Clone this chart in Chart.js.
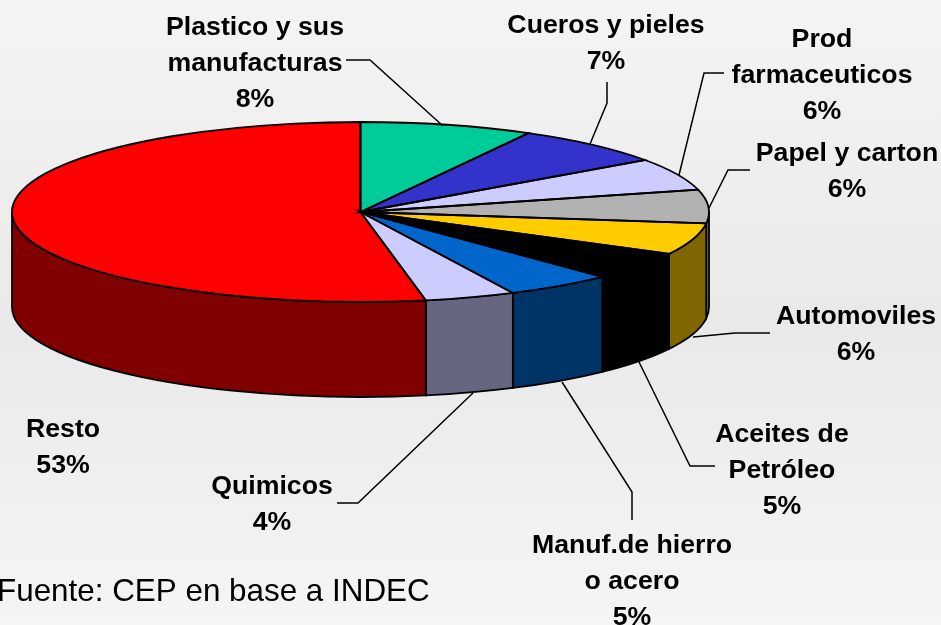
<!DOCTYPE html>
<html>
<head>
<meta charset="utf-8">
<title>Exportaciones</title>
<script src="https://cdn.jsdelivr.net/npm/chart.js@4"></script>
<style>
  html, body { margin: 0; padding: 0; width: 941px; height: 625px; overflow: hidden; }
  body { background: linear-gradient(180deg, #f4f4f4 0%, #e9e9e9 52%, #f5f5f5 100%); }
  canvas { display: block; }
</style>
</head>
<body>
<canvas id="pie" width="941" height="625"></canvas>
<script>
const categories = ["Plastico y sus manufacturas", "Cueros y pieles", "Prod farmaceuticos", "Papel y carton",
  "Automoviles", "Aceites de Petróleo", "Manuf.de hierro o acero", "Quimicos", "Resto"];
// read from the slice edges, the labels show them rounded
const values = [8, 7.2, 5.8, 6, 5.7, 5.1, 5, 4.2, 53];
const labelLines = [
  ["Plastico y sus", "manufacturas"], ["Cueros y pieles"], ["Prod", "farmaceuticos"], ["Papel y carton"],
  ["Automoviles"], ["Aceites de", "Petróleo"], ["Manuf.de hierro", "o acero"], ["Quimicos"], ["Resto"]
];
const topColors = ["#00cc99", "#3333cc", "#ccccff", "#b2b2b2", "#ffcc00", "#000000", "#0066cc", "#ccccff", "#ff0000"];
const sideColors = ["#006650", "#1a1a66", "#666680", "#808080", "#806600", "#000000", "#003366", "#666680", "#800000"];
const sourceNote = "Fuente: CEP en base a INDEC";

// where the flattened pie sits on the page
const pie3d = { cx: 360.5, cy: 212, rx: 348.5, ry: 90, depth: 95 };
// label centre and first line y, then the leader polyline
const labelPos = [
  { x: 255, y: 28, line: [[346, 60], [370, 60], [443, 126]] },
  { x: 606, y: 26, line: [[607, 82], [607, 103], [590, 144]] },
  { x: 822, y: 40, line: [[724, 73], [704, 73], [679, 175]] },
  { x: 847, y: 154, line: [[750, 170], [728, 170], [709, 208]] },
  { x: 856, y: 317, line: [[770, 333], [735, 333], [693, 337]] },
  { x: 782, y: 435, line: [[715, 466], [690, 466], [639, 362]] },
  { x: 632, y: 546, line: [[632, 520], [632, 492], [562, 382]] },
  { x: 272, y: 487, line: [[337, 503], [358, 503], [473, 393]] },
  { x: 63, y: 430, line: null }
];

function wedgeAngles(chart) {
  return chart.getDatasetMeta(0).data.map((arc) => arc.getProps(["startAngle", "endAngle"], true));
}

const pie3dPlugin = {
  id: "pie3d",
  beforeDatasetsDraw(chart) {
    const ctx = chart.ctx;
    const { cx, cy, rx, ry, depth } = pie3d;

    // side wall, only the part facing the viewer (0..PI)
    ctx.save();
    ctx.lineWidth = 1.8;
    ctx.strokeStyle = "#000";
    wedgeAngles(chart).forEach((a, i) => {
      const from = Math.max(a.startAngle, 0);
      const to = Math.min(a.endAngle, Math.PI);
      if (to <= from) return;
      ctx.beginPath();
      ctx.ellipse(cx, cy, rx, ry, 0, from, to);
      ctx.ellipse(cx, cy + depth, rx, ry, 0, to, from, true);
      ctx.closePath();
      ctx.fillStyle = sideColors[i];
      ctx.fill();
      ctx.stroke();
    });
    ctx.restore();

    // squash the library's round pie onto the ellipse
    const arc = chart.getDatasetMeta(0).data[0];
    const r = arc.outerRadius;
    ctx.save();
    ctx.translate(cx, cy);
    ctx.scale(rx / r, ry / r);
    ctx.translate(-arc.x, -arc.y);
  },
  afterDatasetsDraw(chart) {
    const ctx = chart.ctx;
    const { cx, cy, rx, ry } = pie3d;
    ctx.restore();

    ctx.save();
    ctx.lineWidth = 1.8;
    ctx.strokeStyle = "#000";
    wedgeAngles(chart).forEach((a) => {
      ctx.beginPath();
      ctx.moveTo(cx, cy);
      ctx.ellipse(cx, cy, rx, ry, 0, a.startAngle, a.endAngle);
      ctx.closePath();
      ctx.stroke();
    });

    ctx.lineWidth = 1.5;
    labelPos.forEach((p) => {
      if (!p.line) return;
      ctx.beginPath();
      p.line.forEach(([x, y], i) => (i ? ctx.lineTo(x, y) : ctx.moveTo(x, y)));
      ctx.stroke();
    });

    ctx.fillStyle = "#000";
    ctx.textAlign = "center";
    ctx.textBaseline = "middle";
    ctx.font = "bold 26.7px 'Liberation Sans'";
    labelPos.forEach((p, i) => {
      const lines = [...labelLines[i], Math.round(values[i]) + "%"];
      lines.forEach((t, j) => ctx.fillText(t, p.x, p.y + j * 36));
    });

    ctx.textAlign = "left";
    ctx.font = "31.4px 'Liberation Sans'";
    ctx.fillText(sourceNote, -3, 592);
    ctx.restore();
  }
};

new Chart(document.getElementById("pie"), {
  type: "pie",
  data: {
    labels: categories,
    datasets: [{
      data: values,
      backgroundColor: topColors,
      borderWidth: 0,
      clip: false
    }]
  },
  options: {
    responsive: false,
    animation: false,
    layout: { padding: 0 },
    plugins: {
      legend: { display: false },
      tooltip: { enabled: false }
    }
  },
  plugins: [pie3dPlugin]
});
</script>
</body>
</html>
